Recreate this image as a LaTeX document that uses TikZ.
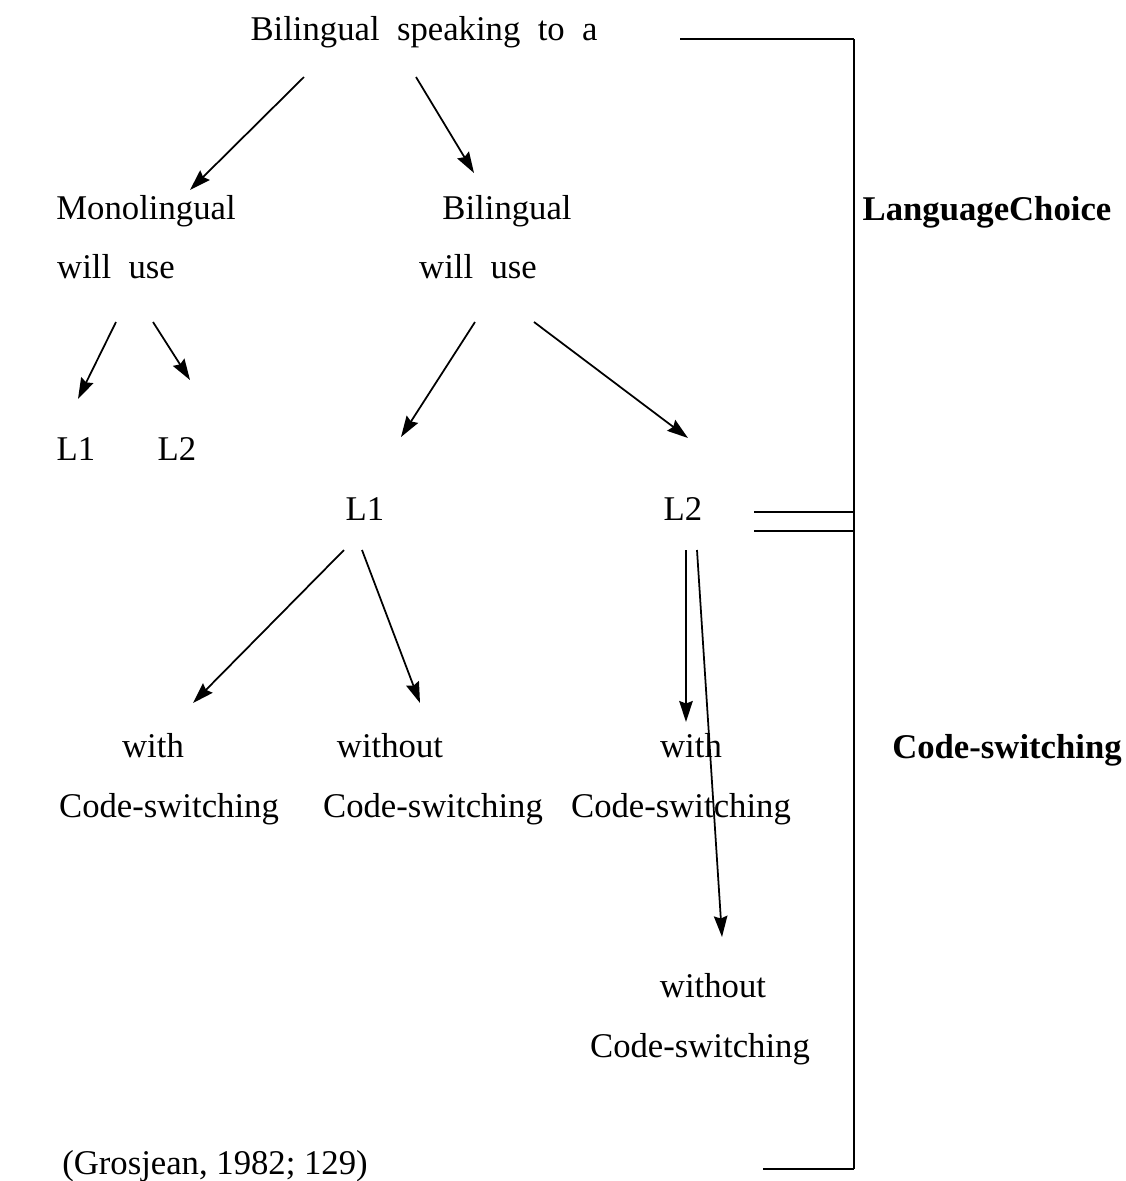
\documentclass[tikz,border=0pt]{standalone}
\usepackage{fontspec}
\setmainfont{Liberation Serif}
\usepackage{tikz}
\usetikzlibrary{arrows.meta,calc}
\newcommand{\wsp}{\hspace{0.5em}}

\begin{document}
\begin{tikzpicture}[x=0.02cm, y=-0.02cm,
	txt/.style = {anchor=base, inner sep=0pt, font=\fontsize{19.75}{24}\selectfont},
	hd/.style = {txt, font=\fontsize{19.75}{24}\selectfont\bfseries},
	arr/.style = {line width=1pt, -{Stealth[length=0.42cm, width=0.27cm, inset=0.05cm]}},
	brace/.style = {line width=1pt},
	heavy/.style = {line width=1.6pt}]
	\useasboundingbox (0,0) rectangle (1126,1181);
	% tree
	\node[txt] (top) at (424,40) {Bilingual\wsp speaking\wsp to\wsp a};
	\node[txt] (mono) at (146,219) {Monolingual};
	\node[txt] (bil) at (507,219) {Bilingual};
	\node[txt] (monouse) at (116,278) {will\wsp use};
	\node[txt] (biluse) at (478,278) {will\wsp use};
	\node[txt] (monoa) at (76,460) {L1};
	\node[txt] (monob) at (177,460) {L2};
	\node[txt] (bila) at (365,520) {L1};
	\node[txt] (bilb) at (683,520) {L2};
	\node[txt] (witha) at (153,757) {with};
	\node[txt] (csa) at (169,817) {Code-switching};
	\node[txt] (withouta) at (390,757) {without};
	\node[txt] (csb) at (433,817) {Code-switching};
	\node[txt] (withb) at (691,757) {with};
	\node[txt] (csc) at (681,817) {Code-switching};
	\node[txt] (withoutb) at (713,997) {without};
	\node[txt] (csd) at (700,1057) {Code-switching};
	\node[txt] (src) at (215,1174) {(Grosjean, 1982; 129)};
	% side labels
	\node[hd] (choice) at (987,220) {LanguageChoice};
	\node[hd] (switch) at (1007,758) {Code-switching};

	% arrows
	\draw[arr] ($(top.base)+(-120,37)$) -- ($(mono.base)+(44,-29)$);
	\draw[arr] ($(top.base)+(-8,37)$) -- ($(bil.base)+(-33,-46)$);
	\draw[arr] ($(monouse.base)+(0,44)$) -- ($(monoa.base)+(2,-61)$);
	\draw[arr] ($(monouse.base)+(37,44)$) -- ($(monob.base)+(13,-80)$);
	\draw[arr] ($(biluse.base)+(-3,44)$) -- ($(bila.base)+(36,-83)$);
	\draw[arr] ($(biluse.base)+(56,44)$) -- ($(bilb.base)+(5,-82)$);
	\draw[arr] ($(bila.base)+(-21,30)$) -- ($(witha.base)+(40,-54)$);
	\draw[arr] ($(bila.base)+(-3,30)$) -- ($(withouta.base)+(30,-54)$);
	\draw[arr] ($(bilb.base)+(3,30)$) -- ($(withb.base)+(-5,-35)$);
	\draw[arr] ($(bilb.base)+(14,30)$) -- ($(withoutb.base)+(9,-60)$);

	% bracket
	\coordinate (brtop) at (854,39);
	\coordinate (brbot) at (854,1169);
	\draw[brace] (brtop) -- (brbot);
	\draw[heavy] (680,39) -- (brtop);
	\draw[heavy] (763,1169) -- (brbot);
	\draw[heavy] (754,512) -- (brtop |- 0,512);
	\draw[heavy] (754,531) -- (brtop |- 0,531);
\end{tikzpicture}
\end{document}
